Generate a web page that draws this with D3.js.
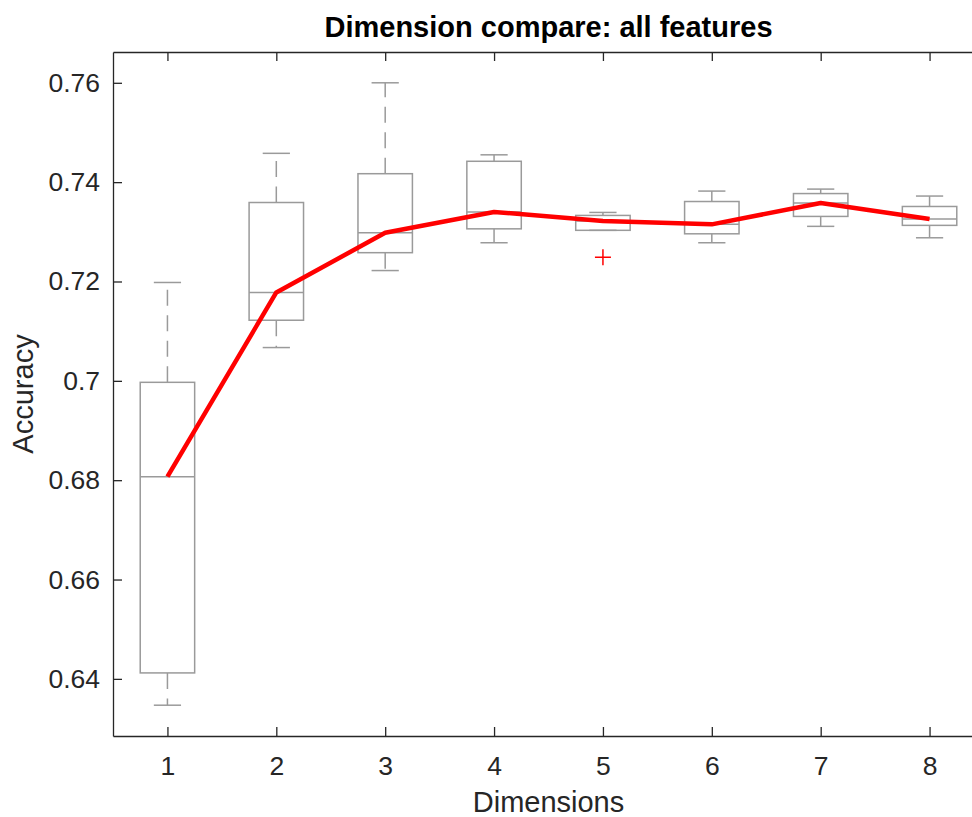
<!DOCTYPE html>
<html>
<head>
<meta charset="utf-8">
<script src="https://cdn.jsdelivr.net/npm/d3@7"></script>
<style>
  html, body { margin: 0; padding: 0; background: #fff; overflow: hidden; }
  svg { display: block; }
  text { font-family: "Liberation Sans", Arial, Helvetica, sans-serif; }
</style>
</head>
<body>
<script>
// Box-plot summary of accuracy per number of dimensions
const dimensions   = [1, 2, 3, 4, 5, 6, 7, 8];
const upperWhisker = [0.7198, 0.7458, 0.7600, 0.7455, 0.7339, 0.7382, 0.7386, 0.7372];
const q3           = [0.6997, 0.7359, 0.7417, 0.7442, 0.7333, 0.7361, 0.7377, 0.7351];
const medians      = [0.6807, 0.7178, 0.7298, 0.7340, 0.7322, 0.7315, 0.7358, 0.7326];
const q1           = [0.6412, 0.7122, 0.7258, 0.7306, 0.7303, 0.7296, 0.7331, 0.7313];
const lowerWhisker = [0.6347, 0.7067, 0.7222, 0.7278, 0.7303, 0.7278, 0.7311, 0.7288];
const outlierDims  = [5];
const outlierVals  = [0.7249];
const yTickValues  = [0.64, 0.66, 0.68, 0.70, 0.72, 0.74, 0.76];
const yTickLabels  = ["0.64", "0.66", "0.68", "0.7", "0.72", "0.74", "0.76"];

const W = 972, H = 817;
const plotLeft = 113, plotRight = 984, plotTop = 52, plotBottom = 736;

const svg = d3.select("body").append("svg")
  .attr("width", W).attr("height", H);

const x = d3.scaleLinear().domain([0.5, 8.5]).range([plotLeft, plotRight]);
const y = d3.scaleLinear().domain([0.6285, 0.7662]).range([plotBottom, plotTop]);

const axisColor = "#262626";
const boxColor = "#9a9a9a";
const tickLen = 9;
const boxHalf = 0.25, capHalf = 0.125;

// Box plots
const g = svg.append("g");
dimensions.forEach((d, i) => {
  const cx = x(d);
  // whiskers (dashed, drawn outward from the box)
  g.append("line")
    .attr("x1", cx).attr("x2", cx)
    .attr("y1", y(q3[i])).attr("y2", y(upperWhisker[i]))
    .attr("stroke", boxColor).attr("stroke-width", 1.5)
    .attr("stroke-dasharray", "16,9.5");
  g.append("line")
    .attr("x1", cx).attr("x2", cx)
    .attr("y1", y(q1[i])).attr("y2", y(lowerWhisker[i]))
    .attr("stroke", boxColor).attr("stroke-width", 1.5)
    .attr("stroke-dasharray", "16,9.5");
  // caps
  [upperWhisker[i], lowerWhisker[i]].forEach(v => {
    g.append("line")
      .attr("x1", x(d - capHalf)).attr("x2", x(d + capHalf))
      .attr("y1", y(v)).attr("y2", y(v))
      .attr("stroke", boxColor).attr("stroke-width", 1.5);
  });
  // box
  g.append("rect")
    .attr("x", x(d - boxHalf)).attr("width", x(d + boxHalf) - x(d - boxHalf))
    .attr("y", y(q3[i])).attr("height", y(q1[i]) - y(q3[i]))
    .attr("fill", "none").attr("stroke", boxColor).attr("stroke-width", 1.5);
  // median
  g.append("line")
    .attr("x1", x(d - boxHalf)).attr("x2", x(d + boxHalf))
    .attr("y1", y(medians[i])).attr("y2", y(medians[i]))
    .attr("stroke", boxColor).attr("stroke-width", 1.5);
});

// Outliers
outlierDims.forEach((d, i) => {
  const px = x(d), py = y(outlierVals[i]), s = 8;
  g.append("path")
    .attr("d", `M${px - s},${py}H${px + s}M${px},${py - s}V${py + s}`)
    .attr("stroke", "#ff0000").attr("stroke-width", 1.5).attr("fill", "none");
});

// Median trend line
const line = d3.line().x((d, i) => x(d)).y((d, i) => y(medians[i]));
svg.append("path")
  .datum(dimensions)
  .attr("d", line)
  .attr("fill", "none")
  .attr("stroke", "#ff0000")
  .attr("stroke-width", 4.5)
  .attr("stroke-linejoin", "round");

// Axes (ticks pointing inward)
const fontTick = 26.5;
const xAxisB = d3.axisBottom(x).tickValues(dimensions).tickFormat(d3.format("d"))
  .tickSizeInner(-tickLen).tickSizeOuter(0).tickPadding(30);
const xAxisT = d3.axisTop(x).tickValues(dimensions).tickFormat("")
  .tickSizeInner(-tickLen).tickSizeOuter(0);
const yAxisL = d3.axisLeft(y).tickValues(yTickValues)
  .tickFormat((d, i) => yTickLabels[i])
  .tickSizeInner(-tickLen).tickSizeOuter(0).tickPadding(13);

function styleAxis(sel) {
  sel.select(".domain").attr("stroke", axisColor).attr("stroke-width", 1.3);
  sel.selectAll(".tick line").attr("stroke", axisColor).attr("stroke-width", 1.3);
  sel.selectAll(".tick text")
    .attr("fill", axisColor)
    .style("font-size", fontTick + "px")
    .style("font-family", '"Liberation Sans", Arial, sans-serif');
}

svg.append("g").attr("transform", `translate(0,${plotBottom})`).call(xAxisB).call(styleAxis)
  .selectAll(".tick text").attr("dy", "0.71em").attr("y", 20);
svg.append("g").attr("transform", `translate(0,${plotTop})`).call(xAxisT).call(styleAxis);
svg.append("g").attr("transform", `translate(${plotLeft},0)`).call(yAxisL).call(styleAxis);

// Labels
svg.append("text")
  .attr("x", (plotLeft + plotRight) / 2).attr("y", 812)
  .attr("text-anchor", "middle")
  .attr("fill", axisColor)
  .style("font-size", "29px")
  .text("Dimensions");

svg.append("text")
  .attr("transform", `translate(33,${(plotTop + plotBottom) / 2}) rotate(-90)`)
  .attr("text-anchor", "middle")
  .attr("fill", axisColor)
  .style("font-size", "29px")
  .text("Accuracy");

svg.append("text")
  .attr("x", (plotLeft + plotRight) / 2).attr("y", 37)
  .attr("text-anchor", "middle")
  .attr("fill", "#000")
  .style("font-size", "29px")
  .style("font-weight", "bold")
  .text("Dimension compare: all features");
</script>
</body>
</html>
